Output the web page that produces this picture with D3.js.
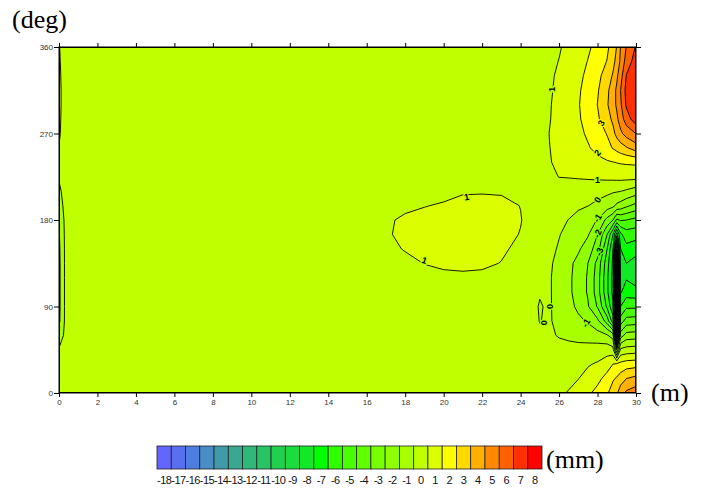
<!DOCTYPE html>
<html>
<head>
<meta charset="utf-8">
<script src="https://cdn.jsdelivr.net/npm/d3@7"></script>
<style>
  body { margin: 0; background: #fff; }
  svg { display: block; }
</style>
</head>
<body>
<div id="chart"></div>
<script>
//Grid columns (m) and rows (deg) of the surface
const xCols = [0, 0.4, 2, 16, 17, 18, 19, 20, 21, 22, 23, 24, 25, 25.5, 26, 26.5, 27, 27.5, 28, 28.5, 28.8, 29, 29.2, 29.5, 30];
const yRows = [0, 15, 30, 45, 60, 75, 90, 105, 120, 135, 150, 165, 180, 195, 210, 225, 240, 255, 270, 285, 300, 315, 330, 345, 360];

//Values (mm), one line for each row of yRows, columns as in xCols
const zRows = [
  [0.5, 0.5, 0.5, 0.5, 0.5, 0.5, 0.5, 0.5, 0.5, 0.5, 0.5, 0.55, 0.65, 0.75, 0.88, 1.05, 1.35, 1.8, 2.35, 2.9, 3.4, 3.85, 4.6, 5.2, 5.6],
  [0.5, 0.5, 0.5, 0.5, 0.5, 0.5, 0.5, 0.5, 0.5, 0.5, 0.5, 0.5, 0.55, 0.6, 0.7, 0.82, 0.98, 1.3, 1.7, 2.4, 2.9, 3.1, 3.5, 4.0, 4.3],
  [0.5, 0.5, 0.5, 0.5, 0.5, 0.5, 0.5, 0.5, 0.5, 0.5, 0.5, 0.5, 0.5, 0.55, 0.6, 0.7, 0.8, 0.92, 1.1, 1.5, 2.0, 2.2, 2.3, 2.5, 2.6],
  [0.1, 0.5, 0.5, 0.5, 0.5, 0.5, 0.5, 0.5, 0.5, 0.5, 0.5, 0.5, 0.5, 0.5, 0.45, 0.4, 0.35, 0.4, 0.5, 0.6, 0.4, -3.0, 0.2, 0.4, 0.5],
  [-0.7, 0.5, 0.5, 0.5, 0.5, 0.5, 0.5, 0.5, 0.5, 0.5, 0.5, 0.5, 0.1, 0.2, -0.1, -0.25, -0.35, -0.45, -0.6, -0.9, -1.5, -12.0, -2.5, -1.6, -1.5],
  [-1.2, 0.5, 0.5, 0.5, 0.5, 0.5, 0.5, 0.5, 0.5, 0.5, 0.5, 0.5, -0.02, 0.1, -0.3, -0.55, -0.8, -1.1, -1.8, -3.5, -5.5, -17.0, -4.5, -3.6, -3.5],
  [-1.25, 0.5, 0.5, 0.5, 0.5, 0.5, 0.5, 0.5, 0.5, 0.5, 0.5, 0.5, -0.05, 0.1, -0.35, -0.7, -1.2, -1.9, -3.1, -5.2, -6.8, -17.8, -6.0, -5.2, -5.2],
  [-1.25, 0.5, 0.5, 0.5, 0.5, 0.5, 0.5, 0.5, 0.5, 0.5, 0.5, 0.5, 0.05, 0.1, -0.4, -0.8, -1.4, -2.1, -3.5, -5.8, -7.3, -17.9, -7.1, -6.5, -6.6],
  [-1.25, 0.5, 0.5, 0.5, 0.55, 0.65, 0.75, 0.85, 0.88, 0.85, 0.75, 0.6, 0.5, 0.1, -0.4, -0.8, -1.4, -2.1, -3.5, -5.8, -7.3, -17.8, -7.4, -7.1, -7.6],
  [-1.25, 0.5, 0.5, 0.55, 0.65, 0.8, 1.02, 1.12, 1.15, 1.12, 0.98, 0.7, 0.55, 0.15, -0.3, -0.75, -1.3, -2.0, -3.3, -5.6, -7.2, -17.0, -7.3, -7.0, -7.4],
  [-1.2, 0.5, 0.5, 0.6, 0.8, 1.05, 1.15, 1.2, 1.22, 1.2, 1.1, 0.85, 0.6, 0.25, -0.1, -0.5, -0.85, -1.5, -2.5, -5.0, -7.0, -14.0, -7.0, -6.3, -6.6],
  [-1.1, 0.5, 0.5, 0.6, 0.95, 1.1, 1.18, 1.22, 1.25, 1.22, 1.15, 0.98, 0.65, 0.35, 0.05, -0.3, -0.6, -0.9, -2.0, -4.0, -6.0, -8.5, -6.2, -5.5, -5.6],
  [-0.9, 0.5, 0.5, 0.6, 0.93, 1.08, 1.15, 1.2, 1.22, 1.22, 1.18, 1.02, 0.7, 0.45, 0.2, -0.02, -0.3, -0.6, -1.05, -2.3, -3.0, -4.2, -3.9, -4.0, -4.3],
  [-0.5, 0.5, 0.5, 0.55, 0.8, 0.9, 0.98, 1.05, 1.15, 1.16, 1.12, 0.99, 0.65, 0.5, 0.4, 0.3, 0.15, 0.02, -0.2, -0.5, -0.75, -1.2, -1.4, -1.8, -2.3],
  [-0.2, 0.5, 0.5, 0.5, 0.6, 0.7, 0.75, 0.85, 0.95, 0.96, 0.95, 0.8, 0.55, 0.5, 0.5, 0.45, 0.4, 0.35, 0.3, 0.2, 0.1, 0.08, 0.02, -0.15, -0.5],
  [0.1, 0.5, 0.5, 0.5, 0.5, 0.5, 0.5, 0.5, 0.5, 0.5, 0.5, 0.5, 0.65, 0.8, 1.02, 1.05, 1.1, 1.15, 1.2, 1.25, 1.28, 1.3, 1.32, 1.33, 1.35],
  [0.8, 0.5, 0.5, 0.5, 0.5, 0.5, 0.5, 0.5, 0.5, 0.5, 0.5, 0.5, 0.72, 0.97, 1.1, 1.22, 1.35, 1.5, 1.7, 1.88, 1.97, 2.03, 2.08, 2.12, 2.16],
  [0.98, 0.5, 0.5, 0.5, 0.5, 0.5, 0.5, 0.5, 0.5, 0.5, 0.5, 0.5, 0.75, 0.99, 1.15, 1.35, 1.6, 1.9, 2.3, 2.75, 3.05, 3.3, 3.55, 3.9, 4.5],
  [1.1, 0.5, 0.5, 0.5, 0.5, 0.5, 0.5, 0.5, 0.5, 0.5, 0.5, 0.5, 0.75, 1.01, 1.2, 1.45, 1.75, 2.15, 2.6, 3.05, 3.7, 4.3, 4.8, 5.4, 6.02],
  [1.15, 0.5, 0.5, 0.5, 0.5, 0.5, 0.5, 0.5, 0.5, 0.5, 0.5, 0.5, 0.75, 0.97, 1.2, 1.5, 1.88, 2.35, 2.85, 3.6, 4.2, 4.8, 5.5, 6.5, 7.6],
  [1.19, 0.5, 0.5, 0.5, 0.5, 0.5, 0.5, 0.5, 0.5, 0.5, 0.5, 0.5, 0.75, 0.95, 1.2, 1.55, 1.93, 2.45, 3.02, 3.9, 4.6, 5.15, 5.85, 7.15, 7.85],
  [1.19, 0.5, 0.5, 0.5, 0.5, 0.5, 0.5, 0.5, 0.5, 0.5, 0.5, 0.5, 0.72, 0.92, 1.15, 1.5, 1.88, 2.35, 2.9, 3.8, 4.5, 5.2, 6.02, 7.3, 7.9],
  [1.15, 0.5, 0.5, 0.5, 0.5, 0.5, 0.5, 0.5, 0.5, 0.5, 0.5, 0.5, 0.7, 0.9, 1.1, 1.4, 1.78, 2.2, 2.7, 3.5, 4.1, 4.8, 5.6, 7.05, 7.8],
  [1.1, 0.5, 0.5, 0.5, 0.5, 0.5, 0.5, 0.5, 0.5, 0.5, 0.5, 0.5, 0.65, 0.82, 1.02, 1.3, 1.62, 2.03, 2.5, 3.04, 3.7, 4.3, 5.2, 6.4, 7.5],
  [1.05, 0.5, 0.5, 0.5, 0.5, 0.5, 0.5, 0.5, 0.5, 0.5, 0.5, 0.5, 0.6, 0.75, 0.93, 1.2, 1.5, 1.85, 2.3, 2.85, 3.4, 4.05, 5.05, 6.05, 7.1]
];

//Contour levels and colour scale
const levels = [-18, -17, -16, -15, -14, -13, -12, -11, -10, -9, -8, -7, -6, -5, -4, -3, -2, -1, 0, 1, 2, 3, 4, 5, 6, 7, 8];
const levelColors = ['#6464ff', '#5a6ef0', '#507ee0', '#4a8cc8', '#409aaa', '#38a890', '#30b878', '#28c464', '#22d050', '#1adc3c', '#10e828',
  '#00ff00', '#30ff00', '#48ff00', '#60ff00', '#78ff00', '#90ff00', '#a8ff00', '#c0ff00', '#dcff00', '#ffff00',
  '#ffd800', '#ffb000', '#ff8800', '#ff6000', '#ff3000', '#ff0000'];

//Tick values
const xTicks = [0, 2, 4, 6, 8, 10, 12, 14, 16, 18, 20, 22, 24, 26, 28, 30];
const yTicks = [0, 90, 180, 270, 360];

//Contour labels: position (m, deg), text, rotation
const contourLabels = [
  [25.6, 316, '1', -90], [28.2, 281, '3', -60], [28.0, 250, '2', -50], [28.0, 222, '1', 0],
  [28.0, 201, '0', -60], [28.0, 182, '-1', -60], [28.0, 166, '-2', -65], [28.1, 147, '-3', -70],
  [25.5, 90, '0', -90], [25.2, 73, '0', -90], [27.4, 73, '-1', -60],
  [21.2, 204, '1', -10], [19.0, 138, '1', 20]
];

const W = 707, H = 488;
const plot = {left: 59, right: 636, top: 47, bottom: 393};

let svg = d3.select('#chart').append('svg')
  .attr('width', W).attr('height', H);

let x = d3.scaleLinear().domain([0, 30]).range([plot.left, plot.right]);
let y = d3.scaleLinear().domain([0, 360]).range([plot.bottom, plot.top]);

//grid index -> data units (value i sits at i + 0.5 in contour space)
let gx = d3.scaleLinear().domain(xCols.map((d, i) => i + 0.5)).range(xCols).clamp(true);
let gy = d3.scaleLinear().domain(yRows.map((d, i) => i + 0.5)).range(yRows).clamp(true);

let proj = d3.geoTransform({
  point: function(px, py) { this.stream.point(x(gx(px)), y(gy(py))); }
});
let path = d3.geoPath(proj);

let values = [].concat(...zRows);
let contours = d3.contours()
  .size([xCols.length, yRows.length])
  .thresholds(levels)(values);

let color = d3.scaleOrdinal().domain(levels).range(levelColors);

svg.append('clipPath').attr('id', 'clip')
  .append('rect')
  .attr('x', plot.left).attr('y', plot.top)
  .attr('width', plot.right - plot.left).attr('height', plot.bottom - plot.top);

let g = svg.append('g').attr('clip-path', 'url(#clip)');

g.append('g').selectAll('path')
  .data(contours)
  .join('path')
  .attr('d', path)
  .attr('fill', d => color(d.value))
  .attr('stroke', 'none');

g.append('g').selectAll('path')
  .data(contours)
  .join('path')
  .attr('d', path)
  .attr('fill', 'none')
  .attr('stroke', '#000')
  .attr('stroke-width', 0.9)
  .attr('stroke-linejoin', 'round');

//Labels on the lines
g.append('g').selectAll('text')
  .data(contourLabels)
  .join('text')
  .attr('transform', d => 'translate(' + x(d[0]) + ',' + y(d[1]) + ') rotate(' + d[3] + ')')
  .attr('text-anchor', 'middle')
  .attr('dy', '0.35em')
  .attr('font-family', 'Liberation Sans, Arial, sans-serif')
  .attr('font-size', 9)
  .attr('font-weight', 'bold')
  .attr('fill', '#000')
  .attr('stroke', d => color(+d[2] - 1))
  .attr('stroke-width', 2.5)
  .attr('paint-order', 'stroke')
  .text(d => d[2]);

//Frame
svg.append('rect')
  .attr('x', plot.left).attr('y', plot.top)
  .attr('width', plot.right - plot.left).attr('height', plot.bottom - plot.top)
  .attr('fill', 'none').attr('stroke', '#000').attr('stroke-width', 1);

//Axes
function styleAxis(sel) {
  sel.select('.domain').remove();
  sel.selectAll('.tick line').attr('stroke', '#000');
  sel.selectAll('.tick text')
    .attr('font-family', 'Liberation Sans, Arial, sans-serif')
    .attr('font-size', 8)
    .attr('fill', '#333');
}

svg.append('g')
  .attr('transform', 'translate(0,' + plot.bottom + ')')
  .call(d3.axisBottom(x).tickValues(xTicks).tickSize(4).tickPadding(2))
  .call(styleAxis);

svg.append('g')
  .attr('transform', 'translate(0,' + plot.top + ')')
  .call(d3.axisTop(x).tickValues(xTicks).tickSize(4).tickFormat(''))
  .call(styleAxis);

svg.append('g')
  .attr('transform', 'translate(' + plot.left + ',0)')
  .call(d3.axisLeft(y).tickValues(yTicks).tickSize(5).tickPadding(1))
  .call(styleAxis);

svg.append('g')
  .attr('transform', 'translate(' + plot.right + ',0)')
  .call(d3.axisRight(y).tickValues(yTicks).tickSize(5).tickFormat(''))
  .call(styleAxis);

//Axis titles
svg.append('text').attr('x', 12).attr('y', 28)
  .attr('font-family', 'Liberation Serif, Times New Roman, serif').attr('font-size', 26)
  .text('(deg)');
svg.append('text').attr('x', 651).attr('y', 401)
  .attr('font-family', 'Liberation Serif, Times New Roman, serif').attr('font-size', 26)
  .text('(m)');

//Colour bar
let cb = d3.scaleBand().domain(levels).range([157, 542]);
let cbar = svg.append('g');
cbar.selectAll('rect')
  .data(levels)
  .join('rect')
  .attr('x', d => cb(d)).attr('y', 446)
  .attr('width', cb.bandwidth()).attr('height', 23)
  .attr('fill', d => color(d))
  .attr('stroke', '#222').attr('stroke-width', 0.8);
cbar.selectAll('text')
  .data(levels)
  .join('text')
  .attr('x', d => cb(d) + cb.bandwidth() / 2).attr('y', 484)
  .attr('text-anchor', 'middle')
  .attr('font-family', 'Liberation Sans, Arial, sans-serif')
  .attr('font-size', 11)
  .attr('letter-spacing', -0.6)
  .attr('fill', '#111')
  .text(d => d);
svg.append('text').attr('x', 546).attr('y', 468)
  .attr('font-family', 'Liberation Serif, Times New Roman, serif').attr('font-size', 26)
  .text('(mm)');
</script>
</body>
</html>
